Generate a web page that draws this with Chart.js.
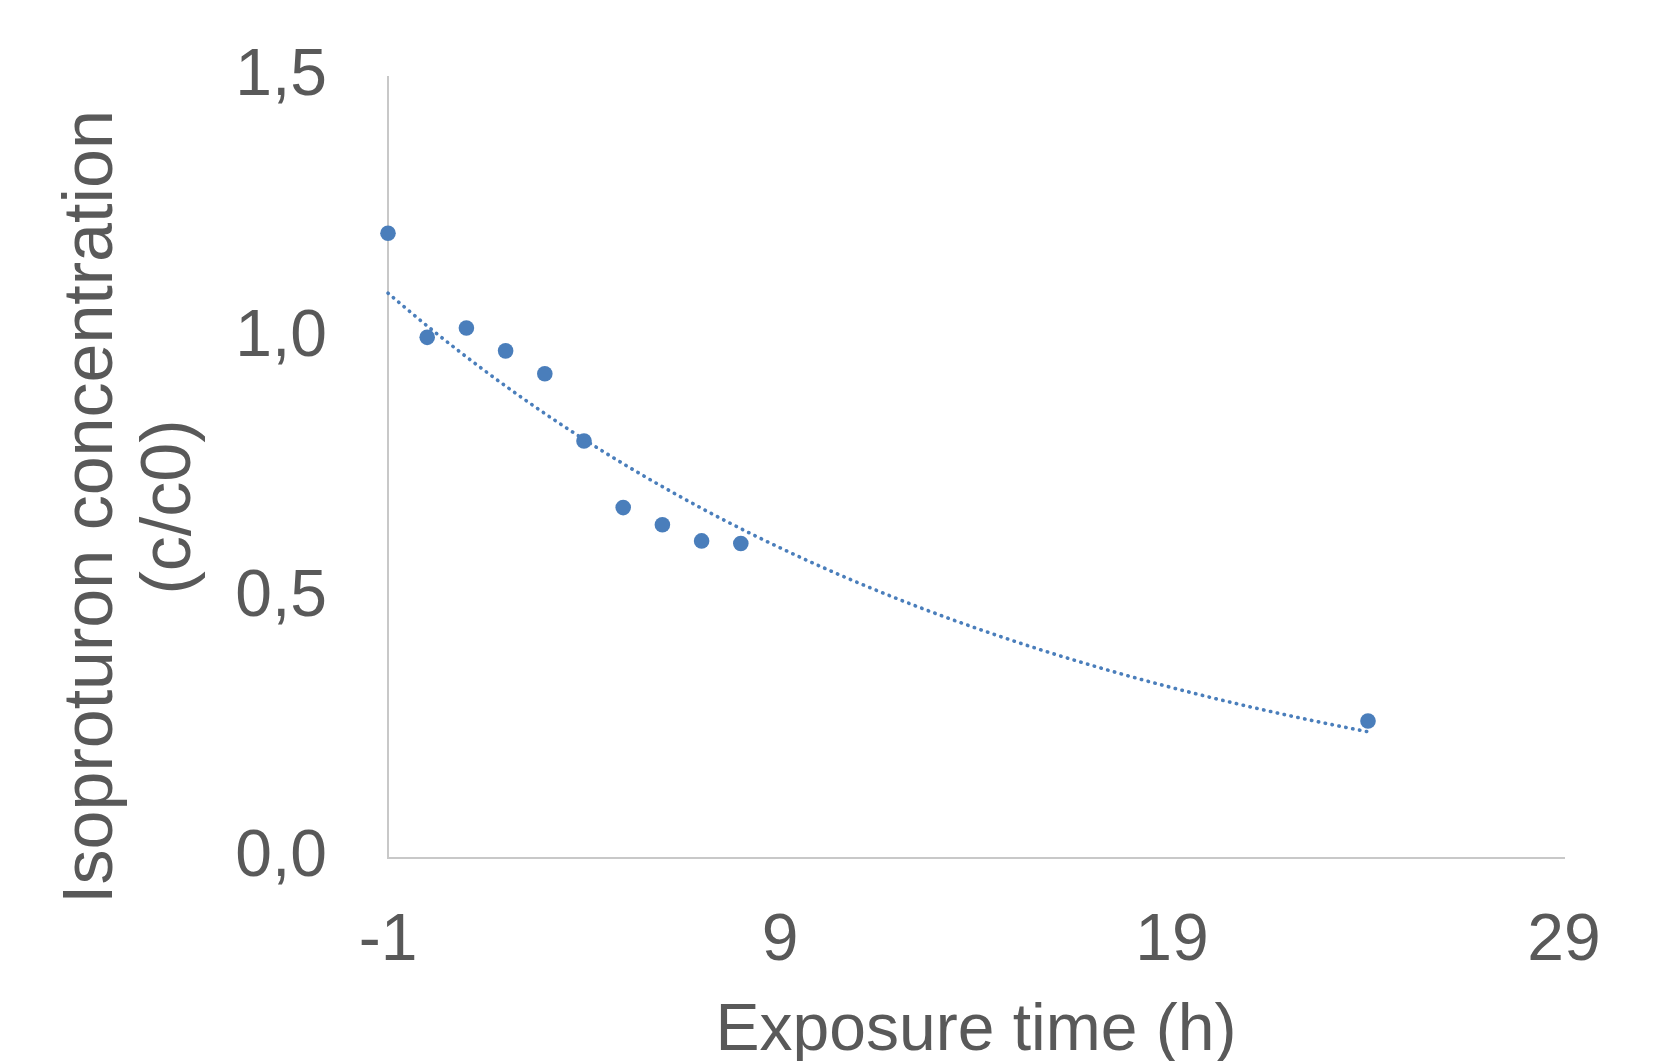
<!DOCTYPE html>
<html>
<head>
<meta charset="utf-8">
<script src="https://cdn.jsdelivr.net/npm/chart.js@4.4.1/dist/chart.umd.min.js"></script>
<style>
  html, body { margin: 0; padding: 0; background: #ffffff; }
  #wrap { width: 1654px; height: 1061px; }
</style>
</head>
<body>
<div id="wrap"><canvas id="c" width="1654" height="1061"></canvas></div>
<script>
// ---- data ----
const exposureHours = [-1, 0, 1, 2, 3, 4, 5, 6, 7, 8, 24];
const concentration = [1.20, 1.00, 1.018, 0.974, 0.930, 0.801, 0.673, 0.640, 0.609, 0.604, 0.263];
const xTickValues = [-1, 9, 19, 29];
const yTickValues = [0, 0.5, 1.0, 1.5];
const yTickLabels = ['0,0', '0,5', '1,0', '1,5'];
const xTitle = 'Exposure time (h)';
const yTitleLines = ['Isoproturon concentration', '(c/c0)'];

// ---- exponential trendline (least squares on ln y, as Excel does) ----
function expFit(xs, ys) {
  const n = xs.length;
  const ly = ys.map(Math.log);
  const mx = xs.reduce((a, b) => a + b, 0) / n;
  const my = ly.reduce((a, b) => a + b, 0) / n;
  let sxy = 0, sxx = 0;
  for (let i = 0; i < n; i++) { sxy += (xs[i] - mx) * (ly[i] - my); sxx += (xs[i] - mx) ** 2; }
  const b = sxy / sxx;
  return { a: Math.exp(my - b * mx), b };
}
const fit = expFit(exposureHours, concentration);
const xStart = Math.min(...exposureHours), xEnd = Math.max(...exposureHours);
const trend = [];
for (let i = 0; i <= 200; i++) {
  const x = xStart + (xEnd - xStart) * i / 200;
  trend.push({ x, y: fit.a * Math.exp(fit.b * x) });
}

const BLUE = '#4a7ebb';
const TEXT = '#595959';
const AXIS = '#c8c8c8';
const FONT = '"Liberation Sans", Arial, sans-serif';

const titlePlugin = {
  id: 'titles',
  afterDraw(chart) {
    const ctx = chart.ctx, ca = chart.chartArea;
    ctx.save();
    ctx.fillStyle = TEXT;
    ctx.textAlign = 'center';
    ctx.textBaseline = 'alphabetic';
    ctx.font = '66px ' + FONT;
    ctx.fillText(xTitle, (ca.left + ca.right) / 2, 1050);
    ctx.font = '70px ' + FONT;
    const ys = 507;
    const baselines = [112, 190];
    yTitleLines.forEach((t, i) => {
      ctx.save();
      ctx.translate(baselines[i], ys);
      ctx.rotate(-Math.PI / 2);
      ctx.fillText(t, 0, 0);
      ctx.restore();
    });
    ctx.restore();
  }
};

new Chart(document.getElementById('c'), {
  type: 'scatter',
  data: {
    datasets: [
      {
        label: 'trend',
        type: 'line',
        data: trend,
        borderColor: BLUE,
        borderWidth: 3.6,
        borderDash: [0.4, 6.6],
        borderCapStyle: 'round',
        pointRadius: 0,
        fill: false,
        tension: 0,
        clip: false
      },
      {
        label: 'data',
        data: exposureHours.map((x, i) => ({ x, y: concentration[i] })),
        backgroundColor: BLUE,
        borderColor: BLUE,
        pointRadius: 7.8,
        pointBorderWidth: 0,
        clip: false
      }
    ]
  },
  options: {
    responsive: false,
    animation: false,
    events: [],
    layout: { padding: { top: 77, right: 90, left: 0, bottom: 0 } },
    plugins: { legend: { display: false }, tooltip: { enabled: false } },
    scales: {
      x: {
        type: 'linear',
        min: -1, max: 29,
        grid: { display: false, drawTicks: false },
        border: { display: true, color: AXIS, width: 2 },
        afterBuildTicks: s => { s.ticks = xTickValues.map(v => ({ value: v })); },
        afterFit: s => { s.height = 203; s.paddingLeft = 0; s.paddingRight = 0; },
        ticks: {
          autoSkip: false, maxRotation: 0, padding: 44,
          color: TEXT, font: { family: FONT, size: 66 },
          callback: v => String(v)
        }
      },
      y: {
        type: 'linear',
        min: 0, max: 1.5,
        grid: { display: false, drawTicks: false },
        border: { display: true, color: AXIS, width: 2 },
        afterBuildTicks: s => { s.ticks = yTickValues.map(v => ({ value: v })); },
        afterFit: s => { s.width = 388; s.paddingTop = 0; s.paddingBottom = 0; },
        ticks: {
          autoSkip: false, padding: 61,
          color: TEXT, font: { family: FONT, size: 66 },
          callback: v => yTickLabels[yTickValues.indexOf(v)]
        }
      }
    }
  },
  plugins: [titlePlugin]
});
</script>
</body>
</html>
